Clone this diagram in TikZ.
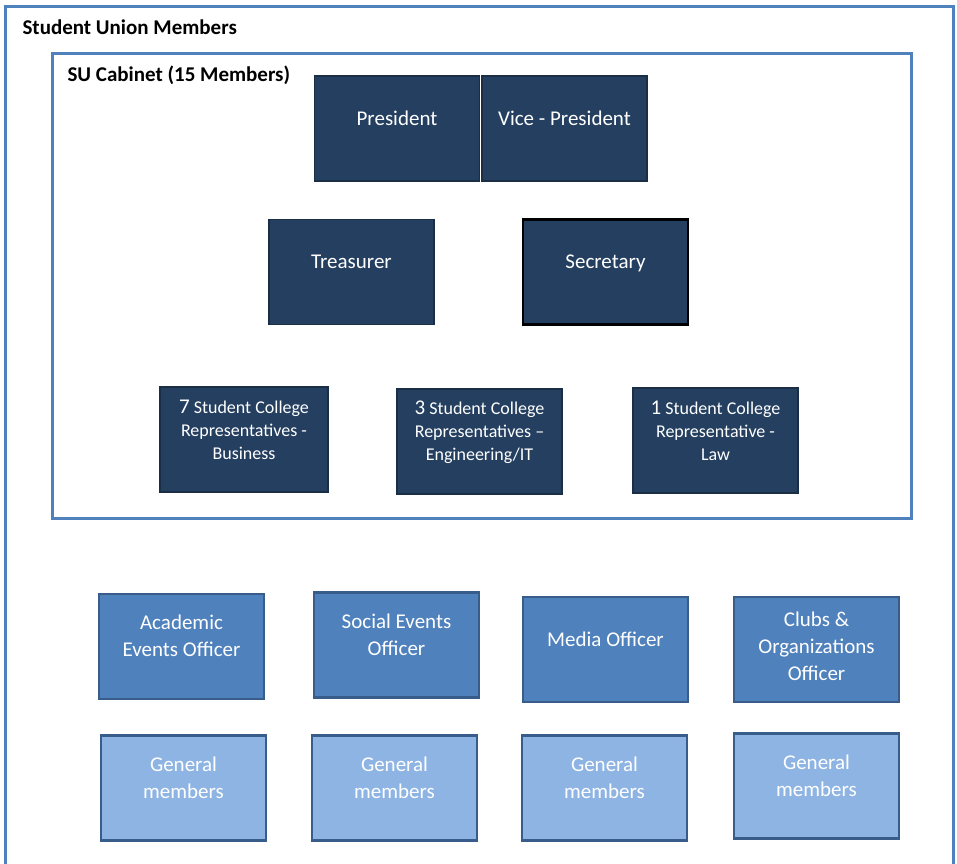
\documentclass[tikz,border=0pt]{standalone}
\usepackage{fontspec}
\setmainfont{Carlito}
\usepackage{xcolor}
\usepackage{tikz}

\definecolor{navy}{HTML}{243F60}
\definecolor{navyline}{HTML}{1A2E46}
\definecolor{midblue}{HTML}{4F81BD}
\definecolor{paleblue}{HTML}{8EB4E3}
\definecolor{edgeblue}{HTML}{385D8A}
\definecolor{frameblue}{HTML}{4F81BD}

\newcommand{\boxfont}{\fontsize{21}{27}\selectfont}
\newcommand{\repfont}{\fontsize{18}{23}\selectfont}
\newcommand{\repnum}{\fontsize{21}{23}\selectfont}

\begin{document}
\begin{tikzpicture}[
    x=1pt, y=-1pt,
    frame/.style={draw=frameblue, line width=3pt},
    cab/.style={rectangle, draw=navyline, fill=navy, line width=1.8pt, minimum width=165pt, minimum height=105pt},
    officer/.style={rectangle, draw=edgeblue, fill=midblue, line width=2.5pt, minimum width=165pt, minimum height=105pt},
    general/.style={rectangle, draw=edgeblue, fill=paleblue, line width=2.5pt, minimum width=165pt, minimum height=105pt},
    lbl/.style={text=white, align=center, font=\boxfont, yshift=10.5pt},
    replbl/.style={text=white, align=center, font=\repfont, yshift=9.5pt},
    heading/.style={anchor=west, font=\fontsize{21}{25}\selectfont\bfseries}
]
\useasboundingbox (0,0) rectangle (957,863);

% Frames
\draw[frame] (5,870) -- (5,6) -- (953,6) -- (953,870);
\draw[frame] (52,53) rectangle (911,518);

\node[heading] (union) at (19,27) {Student Union Members};
\node[heading] (cabinet) at (64,75) {SU Cabinet (15 Members)};

% Cabinet
\node[cab, label={[lbl]center:President}] (pres) at (397,128.5) {};
\node[cab, label={[lbl]center:Vice - President}] (vp) at (564.5,128.5) {};

\node[cab, label={[lbl]center:Treasurer}] (treas) at (351.5,272) {};
\node[cab, draw=black, line width=2.5pt, label={[lbl, yshift=-2pt]center:Secretary}] (sec) at (605.5,272) {};

\node[cab, minimum width=168pt, label={[replbl]center:{{\repnum 7} Student College\\Representatives -\\Business}}] (rep1) at (244,439.5) {};
\node[cab, label={[replbl]center:{{\repnum 3} Student College\\Representatives --\\Engineering/IT}}] (rep2) at (479.5,441.5) {};
\node[cab, label={[replbl]center:{{\repnum 1} Student College\\Representative -\\Law}}] (rep3) at (715.5,440.5) {};

% Officers
\node[officer, label={[lbl]center:Academic\\Events Officer}] (acad) at (181.5,646.5) {};
\node[officer, label={[lbl]center:Social Events\\Officer}] (social) at (396.5,645) {};
\node[officer, label={[lbl]center:Media Officer}] (media) at (605.5,649.5) {};
\node[officer, label={[lbl, yshift=-7pt]center:Clubs \&\\Organizations\\Officer}] (clubs) at (816.5,649.5) {};

% General members
\node[general, label={[lbl]center:General\\members}] (gen1) at (183.5,788) {};
\node[general, label={[lbl]center:General\\members}] (gen2) at (394.5,788) {};
\node[general, label={[lbl]center:General\\members}] (gen3) at (604.5,788) {};
\node[general, label={[lbl]center:General\\members}] (gen4) at (816.5,786) {};

\end{tikzpicture}
\end{document}
